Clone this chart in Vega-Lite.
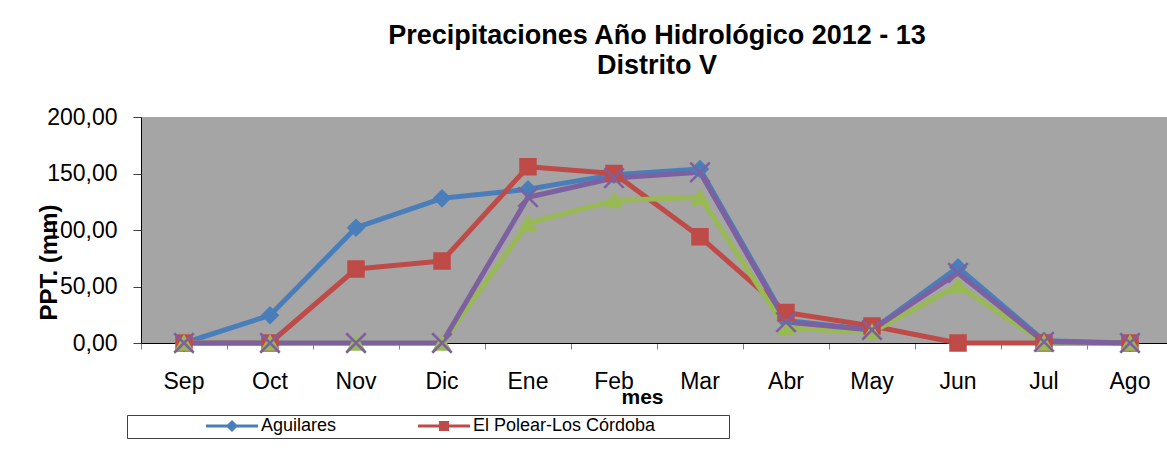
{
  "$schema": "https://vega.github.io/schema/vega-lite/v6.json",
  "width": 1032,
  "height": 226,
  "autosize": {"type": "none"},
  "padding": {"left": 141, "top": 117, "right": 0, "bottom": 114},
  "background": "white",
  "title": {
    "text": ["Precipitaciones Año Hidrológico 2012 - 13", "Distrito V"],
    "font": "Liberation Sans",
    "fontSize": 27,
    "fontWeight": "bold",
    "lineHeight": 30,
    "color": "black",
    "anchor": "middle",
    "offset": 26
  },
  "data": {
    "values": [
      {"mes": "Sep", "serie": "Aguilares", "ppt": 0},
      {"mes": "Oct", "serie": "Aguilares", "ppt": 24.5},
      {"mes": "Nov", "serie": "Aguilares", "ppt": 102},
      {"mes": "Dic", "serie": "Aguilares", "ppt": 128},
      {"mes": "Ene", "serie": "Aguilares", "ppt": 136},
      {"mes": "Feb", "serie": "Aguilares", "ppt": 149},
      {"mes": "Mar", "serie": "Aguilares", "ppt": 154},
      {"mes": "Abr", "serie": "Aguilares", "ppt": 20},
      {"mes": "May", "serie": "Aguilares", "ppt": 11.5},
      {"mes": "Jun", "serie": "Aguilares", "ppt": 67},
      {"mes": "Jul", "serie": "Aguilares", "ppt": 2},
      {"mes": "Ago", "serie": "Aguilares", "ppt": 0},
      {"mes": "Sep", "serie": "El Polear-Los Córdoba", "ppt": 0},
      {"mes": "Oct", "serie": "El Polear-Los Córdoba", "ppt": 0},
      {"mes": "Nov", "serie": "El Polear-Los Córdoba", "ppt": 65.5},
      {"mes": "Dic", "serie": "El Polear-Los Córdoba", "ppt": 72.5},
      {"mes": "Ene", "serie": "El Polear-Los Córdoba", "ppt": 156},
      {"mes": "Feb", "serie": "El Polear-Los Córdoba", "ppt": 150},
      {"mes": "Mar", "serie": "El Polear-Los Córdoba", "ppt": 94},
      {"mes": "Abr", "serie": "El Polear-Los Córdoba", "ppt": 27},
      {"mes": "May", "serie": "El Polear-Los Córdoba", "ppt": 15},
      {"mes": "Jun", "serie": "El Polear-Los Córdoba", "ppt": 0},
      {"mes": "Jul", "serie": "El Polear-Los Córdoba", "ppt": 0},
      {"mes": "Ago", "serie": "El Polear-Los Córdoba", "ppt": 0},
      {"mes": "Sep", "serie": "Serie 3", "ppt": 0},
      {"mes": "Oct", "serie": "Serie 3", "ppt": 0},
      {"mes": "Nov", "serie": "Serie 3", "ppt": 0},
      {"mes": "Dic", "serie": "Serie 3", "ppt": 0},
      {"mes": "Ene", "serie": "Serie 3", "ppt": 106},
      {"mes": "Feb", "serie": "Serie 3", "ppt": 126},
      {"mes": "Mar", "serie": "Serie 3", "ppt": 129},
      {"mes": "Abr", "serie": "Serie 3", "ppt": 13},
      {"mes": "May", "serie": "Serie 3", "ppt": 9.5},
      {"mes": "Jun", "serie": "Serie 3", "ppt": 51},
      {"mes": "Jul", "serie": "Serie 3", "ppt": 0},
      {"mes": "Ago", "serie": "Serie 3", "ppt": 0},
      {"mes": "Sep", "serie": "Serie 4", "ppt": 0},
      {"mes": "Oct", "serie": "Serie 4", "ppt": 0},
      {"mes": "Nov", "serie": "Serie 4", "ppt": 0},
      {"mes": "Dic", "serie": "Serie 4", "ppt": 0},
      {"mes": "Ene", "serie": "Serie 4", "ppt": 129},
      {"mes": "Feb", "serie": "Serie 4", "ppt": 146},
      {"mes": "Mar", "serie": "Serie 4", "ppt": 151},
      {"mes": "Abr", "serie": "Serie 4", "ppt": 18.5},
      {"mes": "May", "serie": "Serie 4", "ppt": 11.5},
      {"mes": "Jun", "serie": "Serie 4", "ppt": 62},
      {"mes": "Jul", "serie": "Serie 4", "ppt": 1},
      {"mes": "Ago", "serie": "Serie 4", "ppt": 0}
    ]
  },
  "encoding": {
    "x": {
      "field": "mes",
      "type": "nominal",
      "sort": ["Sep", "Oct", "Nov", "Dic", "Ene", "Feb", "Mar", "Abr", "May", "Jun", "Jul", "Ago"],
      "scale": {"type": "band", "paddingInner": 0, "paddingOuter": 0},
      "axis": {
        "title": "mes",
        "titleFont": "Liberation Sans",
        "titleFontSize": 21,
        "titleFontWeight": "bold",
        "titleColor": "black",
        "titleX": 501,
        "titleY": 60,
        "titleBaseline": "alphabetic",
        "labelAngle": 0,
        "labelFont": "Liberation Sans",
        "labelFontSize": 23,
        "labelColor": "black",
        "labelPadding": 21,
        "bandPosition": 0,
        "tickSize": 6,
        "tickColor": "#808080",
        "domainColor": "black",
        "domainWidth": 1,
        "grid": false
      }
    },
    "y": {
      "field": "ppt",
      "type": "quantitative",
      "scale": {"domain": [0, 200], "nice": false},
      "axis": {
        "title": "PPT. (mm)",
        "titleFont": "Liberation Sans",
        "titleFontSize": 24,
        "titleFontWeight": "bold",
        "titleColor": "black",
        "titleX": -80,
        "titleY": 145,
        "titleBaseline": "bottom",
        "titleAlign": "center",
        "values": [0, 50, 100, 150, 200],
        "labelExpr": "replace(format(datum.value, '.2f'), '.', ',')",
        "labelFont": "Liberation Sans",
        "labelFontSize": 23,
        "labelColor": "black",
        "labelPadding": 16,
        "tickSize": 8,
        "tickColor": "#404040",
        "domainColor": "black",
        "domainWidth": 1,
        "grid": false
      }
    },
    "color": {
      "field": "serie",
      "type": "nominal",
      "scale": {
        "domain": ["Aguilares", "El Polear-Los Córdoba", "Serie 3", "Serie 4"],
        "range": ["#4A7EBB", "#BE4B48", "#98B954", "#7D60A0"]
      },
      "legend": null
    }
  },
  "layer": [
    {"mark": {"type": "line", "strokeWidth": 5, "strokeJoin": "round"}},
    {
      "mark": {"type": "point", "filled": true, "size": 225, "strokeWidth": 2.5, "opacity": 1},
      "encoding": {
        "shape": {
          "field": "serie",
          "type": "nominal",
          "scale": {
            "domain": ["Aguilares", "El Polear-Los Córdoba", "Serie 3", "Serie 4"],
            "range": ["diamond", "square", "triangle-up", "M-1.3,-1.3L1.3,1.3M-1.3,1.3L1.3,-1.3"]
          },
          "legend": null
        },
        "stroke": {
          "field": "serie",
          "type": "nominal",
          "scale": {
            "domain": ["El Polear-Los Córdoba", "Aguilares", "Serie 3", "Serie 4"],
            "range": ["#BE4B48", "#4A7EBB", "#98B954", "#7D60A0"]
          },
          "legend": {
            "orient": "none",
            "legendX": 271,
            "legendY": 298,
            "direction": "horizontal",
            "values": ["El Polear-Los Córdoba"],
            "title": null,
            "labelFont": "Liberation Sans",
            "labelFontSize": 18,
            "labelColor": "black",
            "labelLimit": 1000,
            "padding": 2,
            "symbolSize": 100,
            "symbolOffset": 21,
            "labelOffset": 20,
            "symbolType": "M-5.2,0H5.2M-0.7,-0.7H0.7V0.7H-0.7Z",
            "symbolStrokeWidth": 3,
            "symbolFillColor": "#BE4B48",
            "symbolStrokeColor": "#BE4B48",
            "symbolOpacity": 1
          }
        }
      }
    },
    {
      "mark": {"type": "point", "filled": true, "size": 10, "opacity": 0, "fill": "#4A7EBB"},
      "encoding": {
        "stroke": {
          "field": "serie",
          "type": "nominal",
          "scale": {
            "domain": ["Aguilares", "El Polear-Los Córdoba", "Serie 3", "Serie 4"],
            "range": ["#4A7EBB", "#BE4B48", "#98B954", "#7D60A0"]
          },
          "legend": {
            "orient": "none",
            "legendX": -14,
            "legendY": 298,
            "direction": "horizontal",
            "values": ["Aguilares"],
            "title": "\u200b              \u200b",
            "titleOrient": "left",
            "titlePadding": 2,
            "titleFont": "Liberation Sans",
            "titleFontSize": 18,
            "labelFont": "Liberation Sans",
            "labelFontSize": 18,
            "labelColor": "black",
            "labelExpr": "pad(datum.label, 87) + '\u200b'",
            "labelLimit": 2000,
            "strokeColor": "#404040",
            "fillColor": "transparent",
            "padding": 2,
            "symbolSize": 100,
            "symbolOffset": 21,
            "labelOffset": 20,
            "symbolType": "M-5.2,0H5.2M0,-0.8L0.8,0L0,0.8L-0.8,0Z",
            "symbolStrokeWidth": 3,
            "symbolFillColor": "#4A7EBB",
            "symbolStrokeColor": "#4A7EBB",
            "symbolOpacity": 1
          }
        }
      }
    }
  ],
  "resolve": {"scale": {"stroke": "independent"}, "legend": {"stroke": "independent"}},
  "config": {
    "view": {"fill": "#A5A5A5", "stroke": null}
  }
}
